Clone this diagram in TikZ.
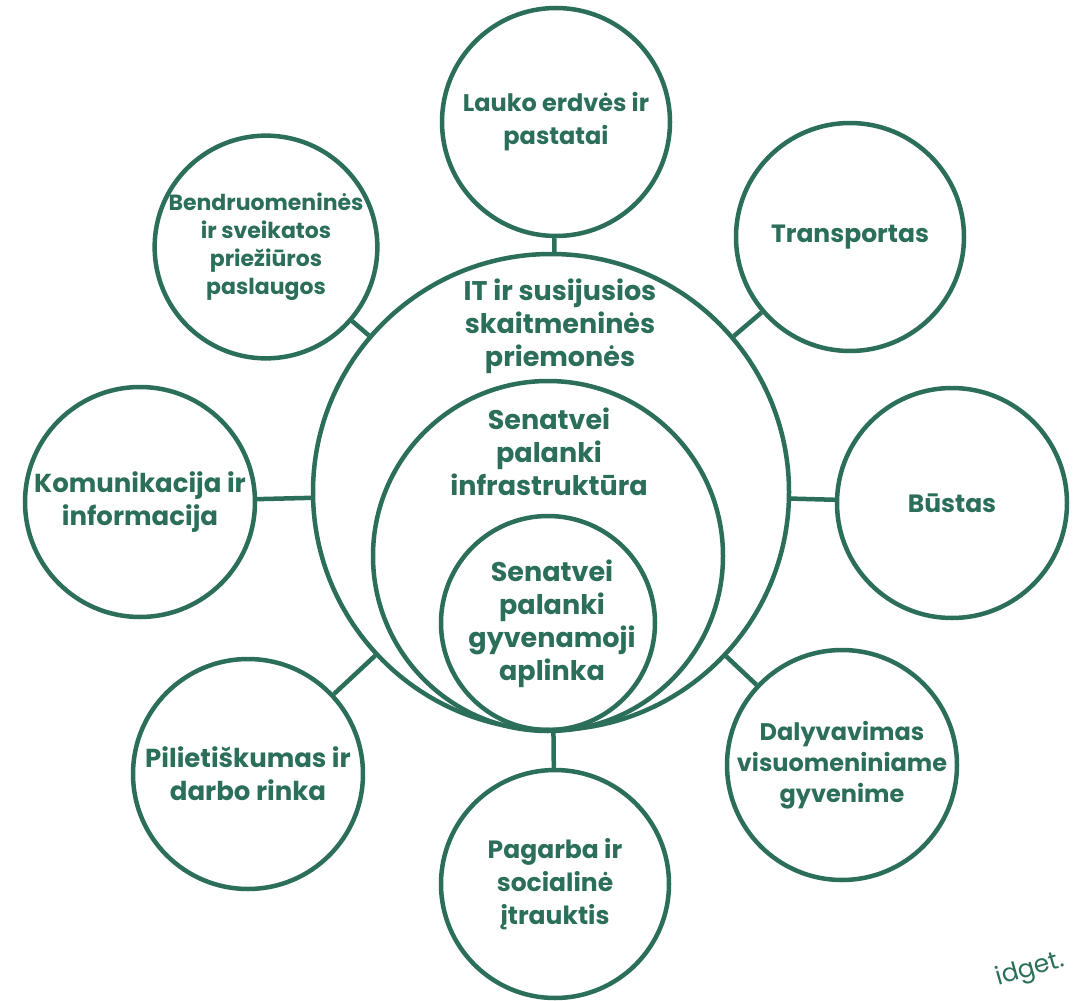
\documentclass[tikz,border=0pt]{standalone}
\usepackage{fontspec}
\setmainfont{Poppins}
\usetikzlibrary{positioning}
\definecolor{leaf}{RGB}{43,110,90}

\begin{document}
\begin{tikzpicture}[x=1pt, y=-1pt,
  ring/.style = {draw=leaf, line width=4.5pt, circle, inner sep=0pt},
  txt/.style = {text=leaf, font=\fontsize{25}{33}\selectfont\bfseries, align=center},
  big/.style = {font=\fontsize{27}{33}\selectfont\bfseries},
  small/.style = {font=\fontsize{22}{28}\selectfont\bfseries},
  link/.style = {draw=leaf, line width=4.5pt}]
\useasboundingbox (0,0) rectangle (1077,1001);

\node[ring, minimum size=476pt] (c) at (551,492) {};
\node[ring, minimum size=350pt] (m) at (548,556) {};
\node[ring, minimum size=214pt] (i) at (548,623) {};
\node[txt, big] (ct) at (560,326) {IT ir susijusios\\skaitmeninės\\priemonės};
\node[txt, big] (mt) at (549,452) {Senatvei\\palanki\\infrastruktūra};
\node[txt, big] (it) at (552,624) {Senatvei\\palanki\\gyvenamoji\\aplinka};

\node[ring, txt, minimum size=228pt, font=\fontsize{24}{33}\selectfont\bfseries] (1) at (556,122) {Lauko erdvės ir\\pastatai};
\node[ring, txt, small, minimum size=214pt] (2) at (266,247) {Bendruomeninės\\ir sveikatos\\priežiūros\\paslaugos};
\node[ring, txt, minimum size=228pt] (3) at (850,237) {Transportas};
\node[ring, txt, minimum size=230pt, font=\fontsize{26}{33}\selectfont\bfseries] (4) at (140,502) {Komunikacija ir\\informacija};
\node[ring, txt, minimum size=230pt] (5) at (952,503) {Būstas};
\node[ring, txt, minimum size=230pt, font=\fontsize{26}{33}\selectfont\bfseries] (6) at (248,774) {Pilietiškumas ir\\darbo rinka};
\node[ring, txt, minimum size=228pt] (7) at (555,884) {Pagarba ir\\socialinė\\įtrauktis};
\node[ring, txt, minimum size=230pt, font=\fontsize{24}{31}\selectfont\bfseries] (8) at (842,765) {Dalyvavimas\\visuomeniniame\\gyvenime};

\draw[link] (c) -- (1);
\draw[link] (c) -- (2);
\draw[link] (c) -- (3);
\draw[link] (c) -- (4);
\draw[link] (c) -- (5);
\draw[link] (c) -- (6);
\draw[link] (c) -- (7);
\draw[link] (c) -- (8);

\node[text=leaf, font=\fontsize{25}{28}\selectfont, rotate=16, inner sep=0pt] (w) at (1030,970) {idget.};
\end{tikzpicture}
\end{document}
